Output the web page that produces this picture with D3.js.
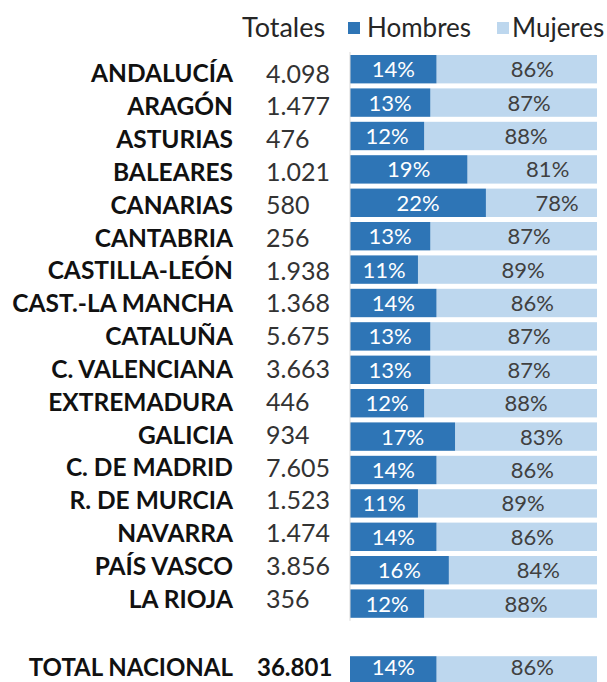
<!DOCTYPE html>
<html>
<head>
<meta charset="utf-8">
<style>
body { margin: 0; background: #fff; }
text { font-family: Lato, "Open Sans", sans-serif; }
</style>
</head>
<body>
<svg width="607" height="682"></svg>
<script src="https://d3js.org/d3.v7.min.js"></script>
<script>
var regions = ["ANDALUCÍA", "ARAGÓN", "ASTURIAS", "BALEARES", "CANARIAS", "CANTABRIA",
  "CASTILLA-LEÓN", "CAST.-LA MANCHA", "CATALUÑA", "C. VALENCIANA", "EXTREMADURA",
  "GALICIA", "C. DE MADRID", "R. DE MURCIA", "NAVARRA", "PAÍS VASCO", "LA RIOJA"];
var totals = ["4.098", "1.477", "476", "1.021", "580", "256", "1.938", "1.368", "5.675",
  "3.663", "446", "934", "7.605", "1.523", "1.474", "3.856", "356"];
var hombres = [14, 13, 12, 19, 22, 13, 11, 14, 13, 13, 12, 17, 14, 11, 14, 16, 12];
var mujeres = [86, 87, 88, 81, 78, 87, 89, 86, 87, 87, 88, 83, 86, 89, 86, 84, 88];

var totalLabel = "TOTAL NACIONAL";
var totalValue = "36.801";
var totalHombres = 14;
var totalMujeres = 86;

var seriesNames = ["Hombres", "Mujeres"];
var colors = ["#2e75b6", "#bdd7ee"];

var svg = d3.select("svg");

var rows = regions.map(function(r, i) {
  return {name: r, total: totals[i], h: hombres[i], m: mujeres[i], idx: i, bold: false};
});
rows.push({name: totalLabel, total: totalValue, h: totalHombres, m: totalMujeres, idx: 18, bold: true});

// bars: 19 slots, slot 17 left empty
var y = d3.scaleBand()
    .domain(d3.range(19))
    .range([52.5, 52.5 + 19 * 33.4])
    .paddingInner(0.15)
    .paddingOuter(0.075);

// percent scale; excel axis ran past the plot edge, bars clipped there
var x = d3.scaleLinear().domain([0, 45]).range([350, 628]);
var plotRight = 597;

// label rows of the table are spaced a bit tighter than the bars
var ty = d3.scaleLinear().domain([0, 16]).range([73.5, 599]);

svg.append("defs").append("clipPath").attr("id", "plot")
  .append("rect").attr("x", x(0)).attr("y", 0)
  .attr("width", plotRight - x(0)).attr("height", 682);

var bars = svg.append("g").attr("clip-path", "url(#plot)");

bars.selectAll(".m").data(rows).enter().append("rect")
    .attr("x", function(d) { return x(d.h); })
    .attr("y", function(d) { return y(d.idx); })
    .attr("width", function(d) { return x(d.h + d.m) - x(d.h); })
    .attr("height", y.bandwidth())
    .attr("fill", colors[1]);

bars.selectAll(".h").data(rows).enter().append("rect")
    .attr("x", x(0))
    .attr("y", function(d) { return y(d.idx); })
    .attr("width", function(d) { return x(d.h) - x(0); })
    .attr("height", y.bandwidth())
    .attr("fill", colors[0]);

// axis line
svg.append("line")
    .attr("x1", x(0)).attr("x2", x(0))
    .attr("y1", y(0) - 3).attr("y2", y(16) + y.bandwidth() + 3)
    .attr("stroke", "#d9d9d9").attr("stroke-width", 1);

// the last row sits against the bottom edge, keep its text inside
function barMid(d) { return y(d.idx) + y.bandwidth() / 2 - (d.bold ? 3 : 0); }

svg.selectAll(".hl").data(rows).enter().append("text")
    .attr("x", function(d) { return (x(0) + x(d.h)) / 2; })
    .attr("y", barMid)
    .attr("dy", "0.36em")
    .attr("text-anchor", "middle")
    .attr("fill", "#fff")
    .style("font-size", "22px")
    .text(function(d) { return d.h + "%"; });

svg.selectAll(".ml").data(rows).enter().append("text")
    .attr("x", function(d) { return (x(d.h) + x(45)) / 2; })
    .attr("y", barMid)
    .attr("dy", "0.36em")
    .attr("text-anchor", "middle")
    .attr("fill", "#404040")
    .style("font-size", "22px")
    .text(function(d) { return d.m + "%"; });

// table columns
function rowY(d) { return d.bold ? barMid(d) : ty(d.idx); }

svg.selectAll(".name").data(rows).enter().append("text")
    .attr("x", 233)
    .attr("y", rowY)
    .attr("dy", "0.36em")
    .attr("text-anchor", "end")
    .attr("fill", "#111")
    .style("font-size", function(d) { return d.bold ? "24px" : "24.5px"; })
    .style("font-weight", "bold")
    .text(function(d) { return d.name; });

svg.selectAll(".tot").data(rows).enter().append("text")
    .attr("x", function(d) { return d.bold ? 257 : 266; })
    .attr("y", rowY)
    .attr("dy", "0.36em")
    .attr("fill", function(d) { return d.bold ? "#111" : "#333"; })
    .style("font-size", function(d) { return d.bold ? "24px" : "25px"; })
    .style("font-weight", function(d) { return d.bold ? "bold" : "normal"; })
    .text(function(d) { return d.total; });

// header + legend
svg.append("text").attr("x", 242).attr("y", 37)
    .attr("fill", "#262626").style("font-size", "27px").text("Totales");

var leg = svg.append("g");
var legX = [348, 497];
seriesNames.forEach(function(s, i) {
  leg.append("rect").attr("x", legX[i]).attr("y", 22).attr("width", 12).attr("height", 12)
     .attr("fill", colors[i]);
  leg.append("text").attr("x", legX[i] + (i ? 15 : 19)).attr("y", 37)
     .attr("fill", "#262626").style("font-size", "26px").text(s);
});
</script>
</body>
</html>
